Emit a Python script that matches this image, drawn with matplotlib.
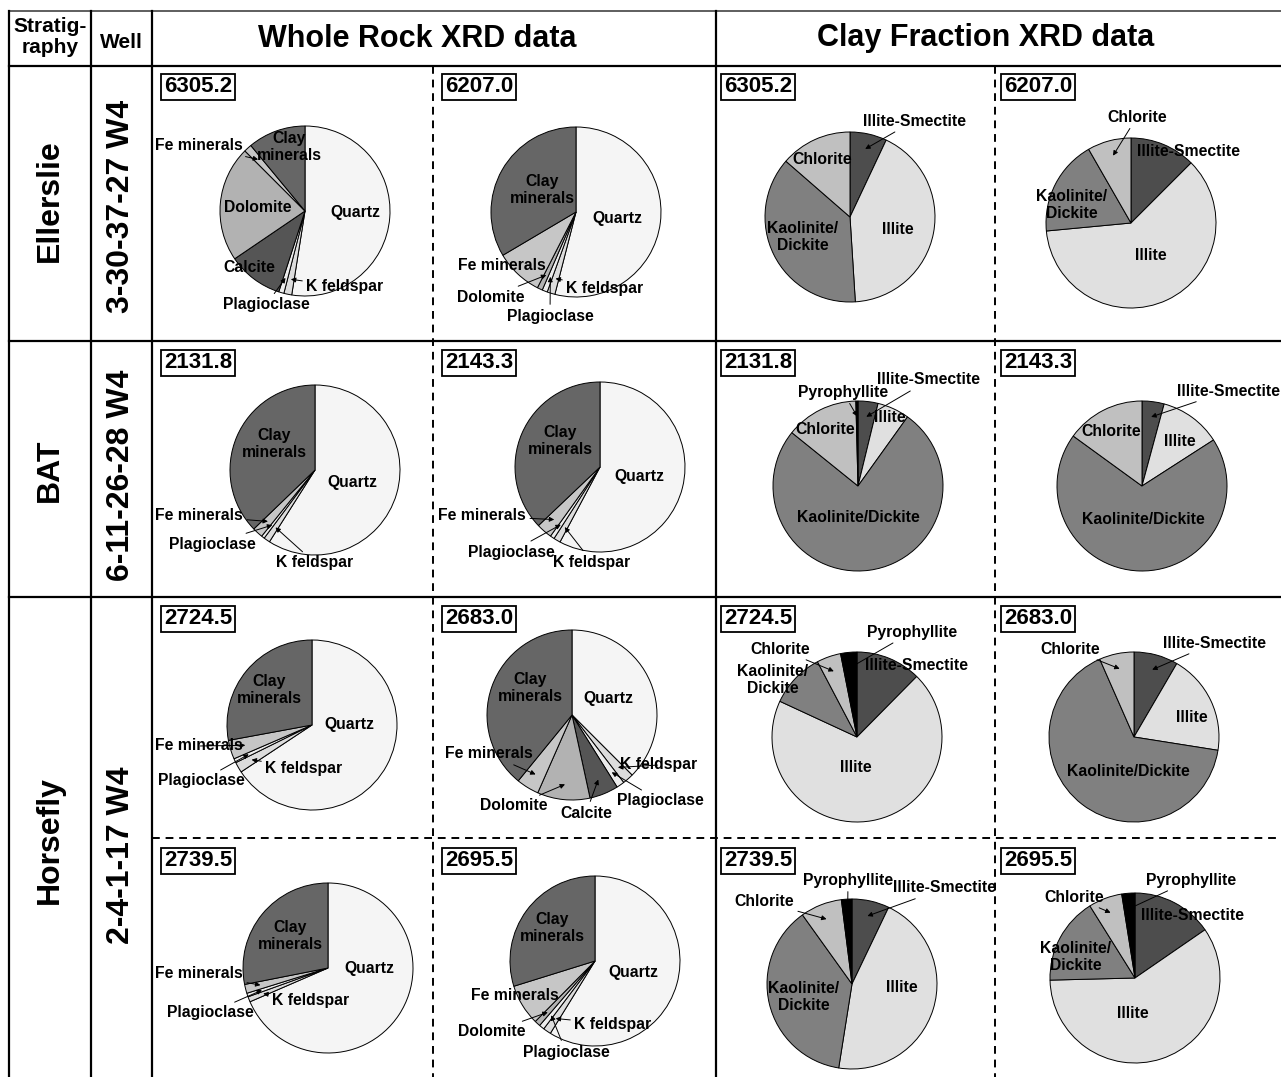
import numpy as np
import matplotlib.pyplot as plt

plt.rcParams['font.family'] = ['Liberation Sans', 'DejaVu Sans']
plt.rcParams['font.weight'] = 'bold'

########## data (percent, clockwise from 12 o'clock) ##########
wr_labels = ['Quartz', 'K feldspar', 'Plagioclase', 'Calcite', 'Dolomite', 'Fe minerals', 'Clay minerals']
wr_6305_2 = [52.5, 1.5, 1.0, 10.5, 22.0, 1.5, 11.0]
wr_6207_0 = [54.0, 1.5, 1.0, 0.0, 1.0, 9.0, 33.5]
wr_2131_8 = [59.0, 1.2, 0.6, 0.0, 0.0, 2.0, 37.2]
wr_2143_3 = [57.8, 1.3, 0.8, 0.0, 0.0, 3.0, 37.1]
wr_2724_5 = [65.7, 2.0, 0.8, 0.0, 0.0, 3.6, 27.9]
wr_2683_0 = [37.5, 2.1, 1.5, 5.5, 10.0, 4.3, 39.1]
wr_2739_5 = [68.5, 1.0, 0.7, 0.0, 0.0, 1.7, 28.1]
wr_2695_5 = [58.8, 1.5, 1.0, 0.0, 1.1, 7.8, 29.8]

clay_labels = ['Illite-Smectite', 'Illite', 'Kaolinite/Dickite', 'Chlorite', 'Pyrophyllite']
clay_6305_2 = [7.0, 42.0, 37.4, 13.6, 0.0]
clay_6207_0 = [12.5, 61.0, 18.2, 8.3, 0.0]
clay_2131_8 = [3.8, 6.1, 75.9, 13.8, 0.4]
clay_2143_3 = [4.2, 11.7, 69.1, 15.0, 0.0]
clay_2724_5 = [12.4, 69.5, 10.4, 4.6, 3.1]
clay_2683_0 = [8.4, 19.1, 65.9, 6.6, 0.0]
clay_2739_5 = [7.1, 45.4, 37.6, 7.9, 2.0]
clay_2695_5 = [15.4, 59.2, 16.5, 6.4, 2.5]

depths = ['6305.2', '6207.0', '2131.8', '2143.3', '2724.5', '2683.0', '2739.5', '2695.5']
strat = ['Ellerslie', 'BAT', 'Horsefly']
wells = ['3-30-37-27 W4', '6-11-26-28 W4', '2-4-1-17 W4']

wr_colors = ['#f5f5f5', '#dcdcdc', '#ececec', '#555555', '#b2b2b2', '#c6c6c6', '#666666']
clay_colors = ['#4d4d4d', '#e0e0e0', '#808080', '#c0c0c0', '#000000']

########## layout (pixels) ##########
W, H = 1281, 1077
R = 85
# center, label offsets (dx, dy, arrow), split Kaolinite/Dickite on two lines
pies = [
    (wr_6305_2, 'wr', (305, 211), {'Quartz': (50, 1, 0), 'Clay minerals': (-16, -64, 0), 'Dolomite': (-47, -3, 0),
                                   'Calcite': (-56, 56, 0), 'Fe minerals': (-106, -65, 1), 'K feldspar': (40, 76, 1),
                                   'Plagioclase': (-39, 94, 1)}, 0),
    (wr_6207_0, 'wr', (576, 212), {'Quartz': (41, 6, 0), 'Clay minerals': (-34, -22, 0), 'Fe minerals': (-74, 54, 0),
                                   'Dolomite': (-85, 85, 1), 'Plagioclase': (-26, 104, 1), 'K feldspar': (29, 76, 1)}, 0),
    (wr_2131_8, 'wr', (315, 470), {'Clay minerals': (-41, -26, 0), 'Quartz': (37, 13, 0), 'Fe minerals': (-116, 46, 1),
                                   'Plagioclase': (-103, 74, 1), 'K feldspar': (0, 93, 1)}, 0),
    (wr_2143_3, 'wr', (600, 467), {'Clay minerals': (-40, -26, 0), 'Quartz': (39, 10, 0), 'Fe minerals': (-118, 49, 1),
                                   'Plagioclase': (-89, 85, 1), 'K feldspar': (-8, 95, 1)}, 0),
    (wr_2724_5, 'wr', (312, 725), {'Clay minerals': (-43, -35, 0), 'Quartz': (37, -1, 0), 'Fe minerals': (-113, 21, 1),
                                   'K feldspar': (-8, 43, 1), 'Plagioclase': (-111, 56, 1)}, 0),
    (wr_2683_0, 'wr', (572, 715), {'Clay minerals': (-42, -27, 0), 'Quartz': (36, -17, 0), 'Fe minerals': (-83, 39, 1),
                                   'Dolomite': (-58, 91, 1), 'Calcite': (14, 98, 1), 'K feldspar': (87, 50, 1),
                                   'Plagioclase': (88, 86, 1)}, 0),
    (wr_2739_5, 'wr', (328, 968), {'Clay minerals': (-38, -32, 0), 'Quartz': (41, 0, 0), 'Fe minerals': (-129, 6, 1),
                                   'K feldspar': (-17, 32, 1), 'Plagioclase': (-118, 45, 1)}, 0),
    (wr_2695_5, 'wr', (595, 961), {'Clay minerals': (-43, -33, 0), 'Quartz': (38, 11, 0), 'Fe minerals': (-80, 35, 0),
                                   'Dolomite': (-103, 71, 1), 'Plagioclase': (-29, 91, 1), 'K feldspar': (18, 63, 1)}, 0),
    (clay_6305_2, 'clay', (850, 217), {'Illite-Smectite': (64, -96, 1), 'Illite': (48, 13, 0),
                                       'Kaolinite/Dickite': (-47, 20, 0), 'Chlorite': (-28, -57, 0)}, 1),
    (clay_6207_0, 'clay', (1131, 223), {'Chlorite': (6, -106, 1), 'Illite-Smectite': (57, -72, 0),
                                        'Kaolinite/Dickite': (-59, -18, 0), 'Illite': (20, 32, 0)}, 1),
    (clay_2131_8, 'clay', (858, 486), {'Pyrophyllite': (-15, -94, 1), 'Illite-Smectite': (71, -106, 1), 'Illite': (32, -68, 0),
                                       'Chlorite': (-33, -56, 0), 'Kaolinite/Dickite': (0, 31, 0)}, 0),
    (clay_2143_3, 'clay', (1142, 486), {'Illite-Smectite': (86, -95, 1), 'Illite': (38, -45, 0), 'Chlorite': (-31, -54, 0),
                                        'Kaolinite/Dickite': (1, 33, 0)}, 0),
    (clay_2724_5, 'clay', (857, 737), {'Pyrophyllite': (55, -105, 1), 'Chlorite': (-77, -88, 1), 'Illite-Smectite': (60, -72, 0),
                                       'Kaolinite/Dickite': (-84, -57, 0), 'Illite': (-1, 31, 0)}, 1),
    (clay_2683_0, 'clay', (1134, 737), {'Illite-Smectite': (80, -94, 1), 'Chlorite': (-64, -88, 1), 'Illite': (58, -19, 0),
                                        'Kaolinite/Dickite': (-6, 35, 0)}, 0),
    (clay_2739_5, 'clay', (852, 984), {'Pyrophyllite': (-4, -104, 1), 'Illite-Smectite': (93, -96, 1), 'Chlorite': (-88, -82, 1),
                                       'Kaolinite/Dickite': (-48, 13, 0), 'Illite': (50, 3, 0)}, 1),
    (clay_2695_5, 'clay', (1135, 978), {'Pyrophyllite': (56, -98, 1), 'Chlorite': (-61, -81, 1), 'Illite-Smectite': (57, -62, 0),
                                        'Kaolinite/Dickite': (-59, -21, 0), 'Illite': (-2, 36, 0)}, 1),
]

fig = plt.figure(figsize=(W / 100, H / 100), dpi=100)

########## pies ##########
pad = 1.05
for vals, kind, (cx, cy), labs, split in pies:
    cols = wr_colors if kind == 'wr' else clay_colors
    ax = fig.add_axes([(cx - R * pad) / W, 1 - (cy + R * pad) / H, 2 * R * pad / W, 2 * R * pad / H])
    keep = [i for i, v in enumerate(vals) if v > 0]
    ax.pie([vals[i] for i in keep], colors=[cols[i] for i in keep], startangle=90, counterclock=False,
           wedgeprops=dict(edgecolor='black', linewidth=0.7))
    ax.set_xlim(-pad, pad)
    ax.set_ylim(-pad, pad)
    ax.axis('off')

########## overlay: table + text ##########
ov = fig.add_axes([0, 0, 1, 1], zorder=5)
ov.set_xlim(0, W)
ov.set_ylim(H, 0)
ov.axis('off')

lk = dict(color='black', lw=1.6, clip_on=False)
dk = dict(color='black', lw=1.4, ls=(0, (4, 3)), clip_on=False)
ov.plot([9, W], [11, 11], color='#333333', lw=1.1, clip_on=False)
for y in [66, 341, 597]:
    ov.plot([9, W], [y, y], **lk)
for x in [9, 90.5, 152, 716]:
    ov.plot([x, x], [11, H], **lk)
ov.plot([432.5, 432.5], [66, H], **dk)
ov.plot([995, 995], [66, H], **dk)
ov.plot([152, W], [838, 838], **dk)

ov.text(50, 37, 'Stratig-\nraphy', ha='center', va='center', fontsize=15, linespacing=1.1)
ov.text(121, 42, 'Well', ha='center', va='center', fontsize=15)
ov.text(417, 39, 'Whole Rock XRD data', ha='center', va='center', fontsize=22)
ov.text(986, 38, 'Clay Fraction XRD data', ha='center', va='center', fontsize=22)

for s, y in zip(strat, [201, 470, 840]):
    ov.text(50, y, s, ha='center', va='center', rotation=90, fontsize=23)
for w, y in zip(wells, [206, 475, 855]):
    ov.text(121, y, w, ha='center', va='center', rotation=90, fontsize=23)

box_x = [198, 479, 758, 1038]
box_y = [87, 363, 619, 861]
depth_pos = [(0, 0), (1, 0), (0, 1), (1, 1), (0, 2), (1, 2), (0, 3), (1, 3)]
for d, (c, r) in zip(depths, depth_pos):
    for off in [0, 2]:
        ov.text(box_x[c + off], box_y[r], d, ha='center', va='center', fontsize=16,
                bbox=dict(boxstyle='square,pad=0.12', fc='white', ec='black', lw=1.3))

for vals, kind, (cx, cy), labs, split in pies:
    names = wr_labels if kind == 'wr' else clay_labels
    ang = 360 * np.cumsum([0] + list(vals)) / sum(vals)
    for name, (dx, dy, arrow) in labs.items():
        i = names.index(name)
        txt = name
        if name == 'Clay minerals':
            txt = 'Clay\nminerals'
        if name == 'Kaolinite/Dickite' and split:
            txt = 'Kaolinite/\nDickite'
        pos = (cx + dx, cy + dy)
        if arrow:
            mid = np.radians((ang[i] + ang[i + 1]) / 2)
            tip = (cx + 0.82 * R * np.sin(mid), cy - 0.82 * R * np.cos(mid))
            ov.annotate(txt, xy=tip, xytext=pos, ha='center', va='center', fontsize=11.3, linespacing=1.2,
                        arrowprops=dict(arrowstyle='-|>', color='black', lw=0.7, mutation_scale=7,
                                        shrinkA=1, shrinkB=0))
        else:
            ov.text(pos[0], pos[1], txt, ha='center', va='center', fontsize=11.3, linespacing=1.2)

fig.savefig('out.png', dpi=100)
